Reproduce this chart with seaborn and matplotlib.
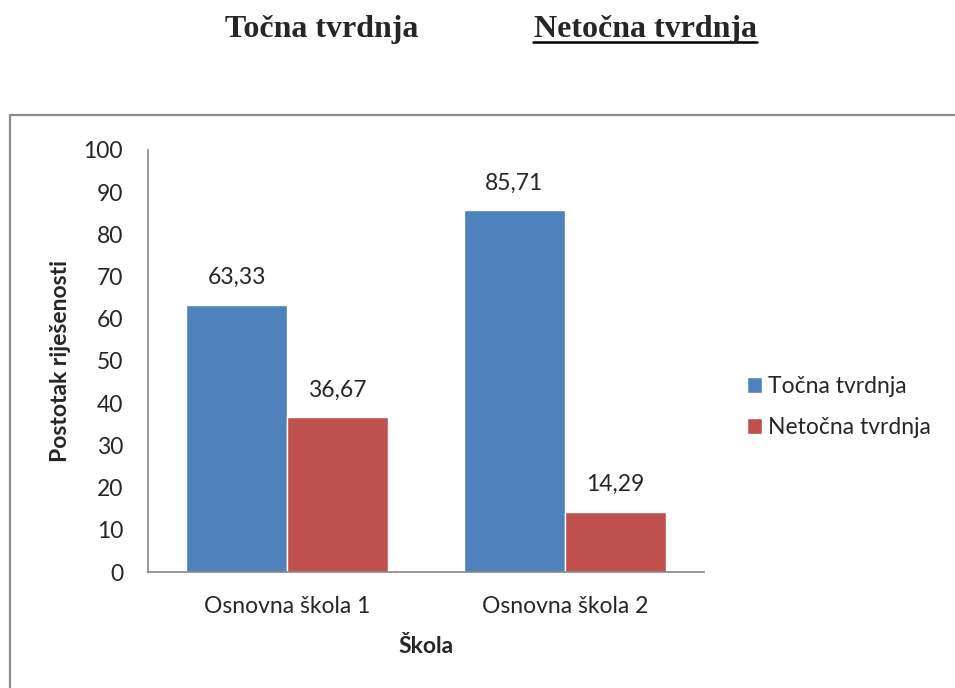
import matplotlib
matplotlib.use("Agg")
import matplotlib.pyplot as plt
import seaborn as sns
import pandas as pd
from matplotlib.patches import Rectangle
from matplotlib.lines import Line2D

# podaci
skole = ["Osnovna škola 1", "Osnovna škola 2"]
tocna = [63.33, 85.71]
netocna = [36.67, 14.29]
serije = ["Točna tvrdnja", "Netočna tvrdnja"]
boje = ["#4F81BD", "#C0504D"]

df = pd.DataFrame({
    "Škola": skole * 2,
    "Postotak": tocna + netocna,
    "Tvrdnja": [serije[0]] * 2 + [serije[1]] * 2,
})

sns.set_style("white")
plt.rcParams["font.family"] = ["Lato", "DejaVu Sans"]
fs = 16.5

fig = plt.figure(figsize=(9.55, 6.88), dpi=100)
ax = fig.add_axes([0.155, 0.1686, 0.582, 0.6134])

sns.barplot(data=df, x="Škola", y="Postotak", hue="Tvrdnja",
            palette=boje, width=0.727, saturation=1, ax=ax)

for c in ax.containers:
    ax.bar_label(c, labels=[f"{v:.2f}".replace(".", ",") for v in c.datavalues],
                 padding=12, fontsize=fs)

ax.set_ylim(0, 100)
ax.set_yticks(range(0, 101, 10))
ax.tick_params(axis="both", length=0, labelsize=fs)
ax.tick_params(axis="y", pad=18)
ax.tick_params(axis="x", pad=17)
ax.set_xlabel("Škola", fontsize=fs, fontweight="bold", labelpad=14)
ax.set_ylabel("Postotak riješenosti", fontsize=fs, fontweight="bold", labelpad=9)
for s in ["top", "right"]:
    ax.spines[s].set_visible(False)
for s in ["left", "bottom"]:
    ax.spines[s].set_color("#868686")
    ax.spines[s].set_linewidth(1.2)

ax.legend(loc="center left", bbox_to_anchor=(726 / 955, 1 - 407 / 688),
          bbox_transform=fig.transFigure, frameon=False, fontsize=fs,
          handlelength=0.68, handleheight=0.68, handletextpad=0.25,
          labelspacing=0.9)

# okvir grafikona
fig.patches.append(Rectangle((10 / 955, -0.1), 1.1, 1 - 115 / 688 + 0.1,
                             transform=fig.transFigure, fill=False,
                             edgecolor="#8c8c8c", linewidth=1.6))

# naslovi iznad
fig.text(322 / 955, 1 - 37 / 688, "Točna tvrdnja", ha="center", va="baseline",
         fontsize=23, fontweight="bold", family="Liberation Serif")
fig.text(645 / 955, 1 - 37 / 688, "Netočna tvrdnja", ha="center", va="baseline",
         fontsize=23, fontweight="bold", family="Liberation Serif")
fig.lines.append(Line2D([533 / 955, 757 / 955], [1 - 42 / 688, 1 - 42 / 688],
                        transform=fig.transFigure, color="black", linewidth=1.8))

fig.savefig("out.png", dpi=100)
